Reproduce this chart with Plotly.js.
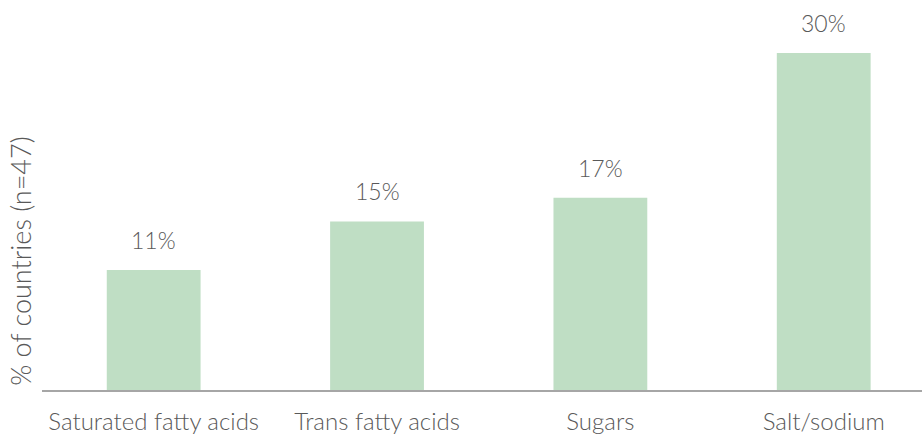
<!DOCTYPE html>
<html><head><meta charset="utf-8">
<script src="https://cdn.plot.ly/plotly-3.0.1.min.js"></script>
<style>body{margin:0;background:#fff}#c{width:922px;height:435px}</style>
</head><body><div id="c"></div>
<script>
const categories = ["Saturated fatty acids", "Trans fatty acids", "Sugars", "Salt/sodium"];
const values = [10.6, 14.9, 17.0, 29.8];
const labels = ["11%", "15%", "17%", "30%"];
const yTitle = "% of countries (n=47)";

const fontFam = "Lato, 'Open Sans', sans-serif";
const txtColor = "#595959";

const data = [{
  type: "bar",
  x: categories,
  y: values,
  marker: {color: "#bfdec4"},
  hoverinfo: "none"
}];

const annotations = categories.map((c, i) => ({
  x: c, y: values[i], xref: "x", yref: "y",
  text: labels[i], showarrow: false,
  yanchor: "bottom", yshift: 14,
  font: {family: fontFam, size: 23, color: txtColor, weight: 300}
}));
annotations.push({
  xref: "paper", yref: "paper", x: -40/880, y: 0.33,
  xanchor: "left", yanchor: "middle",
  text: yTitle, textangle: -90, showarrow: false,
  font: {family: fontFam, size: 27, color: txtColor, weight: 300}
});

const layout = {
  width: 922, height: 435,
  margin: {l: 42, r: 0, t: 0, b: 45},
  paper_bgcolor: "#fff", plot_bgcolor: "#fff",
  bargap: 0.58,
  showlegend: false,
  xaxis: {
    range: [-0.5, 3.44],
    showline: true, linecolor: "#a6a6a6", linewidth: 1.5,
    ticks: "", showgrid: false, zeroline: false,
    tickfont: {family: fontFam, size: 24, color: txtColor, weight: 300},
    ticklabelstandoff: 10
  },
  yaxis: {
    range: [0, 34.48],
    showticklabels: false, showgrid: false, zeroline: false, showline: false, ticks: ""
  },
  annotations: annotations
};
Plotly.newPlot("c", data, layout, {staticPlot: true});
</script></body></html>
